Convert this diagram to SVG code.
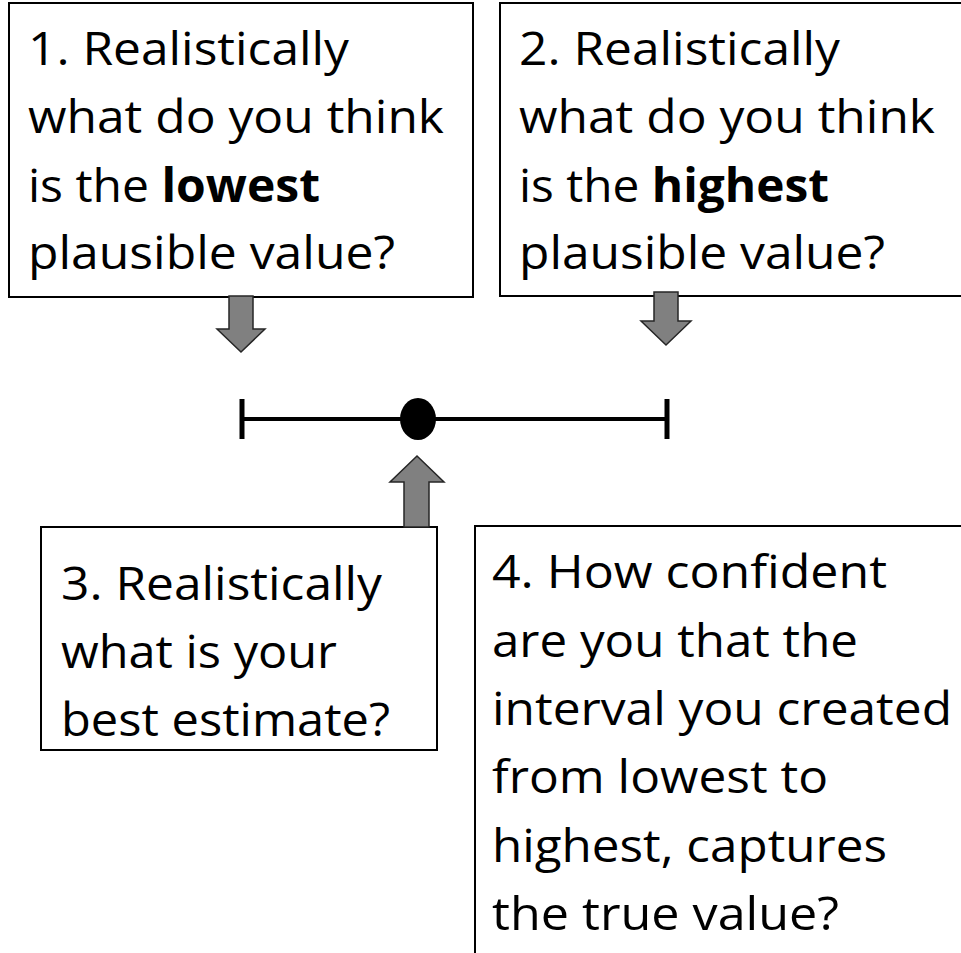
<svg xmlns="http://www.w3.org/2000/svg" width="961" height="953" viewBox="0 0 961 953">
<style>
.box{fill:#fff;stroke:#000;stroke-width:2}
.t{font-family:"Open Sans","Noto Sans",sans-serif;font-size:46px;fill:#000}
.b{font-weight:bold}
.arr{fill:#808080;stroke:#262626;stroke-width:1.5;stroke-linejoin:miter}
</style>
<rect width="961" height="953" fill="#fff"/>
<g id="box1">
<rect class="box" x="9" y="3" width="464" height="294"/>
<text class="t" x="28" y="65" textLength="321" lengthAdjust="spacingAndGlyphs">1. Realistically</text>
<text class="t" x="28" y="133" textLength="416" lengthAdjust="spacingAndGlyphs">what do you think</text>
<text class="t" x="28" y="202" textLength="292" lengthAdjust="spacingAndGlyphs">is the <tspan class="b">lowest</tspan></text>
<text class="t" x="28" y="269" textLength="367" lengthAdjust="spacingAndGlyphs">plausible value?</text>
</g>
<g id="box2">
<rect class="box" x="500" y="3" width="470" height="293"/>
<text class="t" x="519" y="65" textLength="321" lengthAdjust="spacingAndGlyphs">2. Realistically</text>
<text class="t" x="519" y="133" textLength="416" lengthAdjust="spacingAndGlyphs">what do you think</text>
<text class="t" x="519" y="202" textLength="310" lengthAdjust="spacingAndGlyphs">is the <tspan class="b">highest</tspan></text>
<text class="t" x="519" y="269" textLength="366" lengthAdjust="spacingAndGlyphs">plausible value?</text>
</g>
<g id="box3">
<rect class="box" x="41" y="527" width="396" height="223"/>
<text class="t" x="61" y="600" textLength="321" lengthAdjust="spacingAndGlyphs">3. Realistically</text>
<text class="t" x="61" y="668" textLength="276" lengthAdjust="spacingAndGlyphs">what is your</text>
<text class="t" x="61" y="736" textLength="329" lengthAdjust="spacingAndGlyphs">best estimate?</text>
</g>
<g id="box4">
<rect class="box" x="475" y="526" width="500" height="440"/>
<text class="t" x="492" y="588" textLength="395" lengthAdjust="spacingAndGlyphs">4. How confident</text>
<text class="t" x="492" y="657" textLength="366" lengthAdjust="spacingAndGlyphs">are you that the</text>
<text class="t" x="492" y="725" textLength="460" lengthAdjust="spacingAndGlyphs">interval you created</text>
<text class="t" x="492" y="793" textLength="336" lengthAdjust="spacingAndGlyphs">from lowest to</text>
<text class="t" x="492" y="862" textLength="395" lengthAdjust="spacingAndGlyphs">highest, captures</text>
<text class="t" x="492" y="930" textLength="347" lengthAdjust="spacingAndGlyphs">the true value?</text>
</g>
<g id="interval">
<line x1="242" y1="419" x2="667" y2="419" stroke="#000" stroke-width="4"/>
<line x1="242" y1="399" x2="242" y2="439" stroke="#000" stroke-width="5"/>
<line x1="667" y1="399" x2="667" y2="439" stroke="#000" stroke-width="5"/>
<ellipse cx="418" cy="419" rx="18" ry="21" fill="#000"/>
</g>
<g id="connectors">
<polygon class="arr" points="229,296 253,296 253,329 265,329 241,352 217,329 229,329"/>
<polygon class="arr" points="654,292 678,292 678,321 691,321 666,345 641,321 654,321"/>
<polygon class="arr" points="404,527 429,527 429,482 444,482 417,456 390,482 404,482"/>
</g>
</svg>
